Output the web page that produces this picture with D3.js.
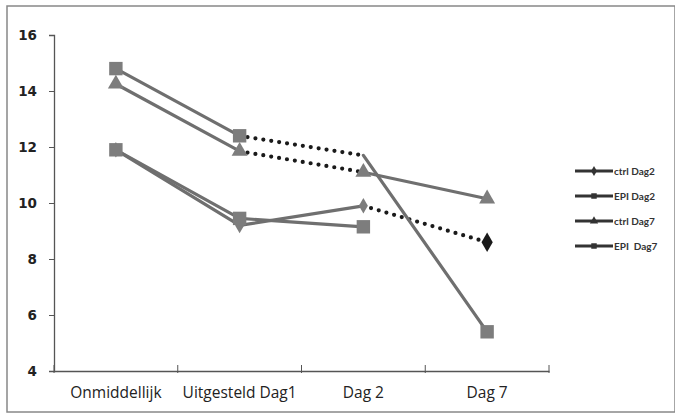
<!DOCTYPE html>
<html>
<head>
<meta charset="utf-8">
<script src="https://cdn.jsdelivr.net/npm/d3@7"></script>
<style>
  body { margin: 0; background: #fff; }
  svg { font-family: Lato, "Open Sans", sans-serif; }
</style>
</head>
<body>
<script>
var categories = ["Onmiddellijk", "Uitgesteld Dag1", "Dag 2", "Dag 7"];
var ctrlDag2 = [11.9, 9.2, 9.9, 8.6];
var epiDag2 = [11.9, 9.45, 9.15, null];
var ctrlDag7 = [14.25, 11.85, 11.1, 10.15];
var epiDag7 = [14.8, 12.4, 11.7, 5.4];
var yTicks = [4, 6, 8, 10, 12, 14, 16];

var series = [
  {name: "ctrl Dag2", values: ctrlDag2, marker: "diamond", dotted: [2]},
  {name: "EPI Dag2", values: epiDag2, marker: "square", dotted: []},
  {name: "ctrl Dag7", values: ctrlDag7, marker: "triangle", dotted: [1]},
  {name: "EPI  Dag7", values: epiDag7, marker: "square", dotted: [1], hide: [2]}
];

var width = 675, height = 416;
var lineColor = "#6f6f6f", markColor = "#7d7d7d";

var svg = d3.select("body").append("svg")
    .attr("width", width)
    .attr("height", height);

// scanned frame
svg.append("rect")
    .attr("x", 7).attr("y", 6)
    .attr("width", 668).attr("height", 406)
    .attr("fill", "none")
    .attr("stroke", "#888")
    .attr("stroke-width", 1.5);

var x = d3.scaleBand().domain(categories).range([54, 549]);
var y = d3.scaleLinear().domain([4, 16]).range([371, 35]);
function cx(i) { return x(categories[i]) + x.bandwidth() / 2; }

// axes
var yAxis = svg.append("g")
    .attr("transform", "translate(54,0)")
    .call(d3.axisLeft(y).tickValues(yTicks).tickSize(5).tickPadding(12));
yAxis.selectAll("text")
    .attr("font-size", 13.5).attr("font-weight", "bold").attr("fill", "#222")
    .attr("font-family", "'DejaVu Sans', sans-serif");

var xAxis = svg.append("g")
    .attr("transform", "translate(0,371)")
    .call(d3.axisBottom(x).tickSize(0).tickPadding(16));
xAxis.selectAll("text")
    .attr("font-size", 15.5).attr("fill", "#222")
    .attr("font-family", "'Open Sans', sans-serif");
// category boundary ticks
xAxis.selectAll(".bound")
    .data(d3.range(categories.length + 1))
    .enter().append("line")
    .attr("x1", function (d) { return 54 + d * x.step(); })
    .attr("x2", function (d) { return 54 + d * x.step(); })
    .attr("y1", -6).attr("y2", 2)
    .attr("stroke", "#555");
svg.selectAll(".domain").attr("stroke", "#555").attr("stroke-width", 1.3);
svg.selectAll(".tick line").attr("stroke", "#555");

function markerPath(type, size) {
  var sym = type === "square" ? d3.symbolSquare : type === "triangle" ? d3.symbolTriangle : d3.symbolDiamond;
  return d3.symbol().type(sym).size(size)();
}

// lines
series.forEach(function (s) {
  for (var i = 0; i < s.values.length - 1; i++) {
    var a = s.values[i], b = s.values[i + 1];
    if (a == null || b == null) continue;
    var dotted = s.dotted.indexOf(i) >= 0;
    svg.append("line")
      .attr("x1", cx(i)).attr("y1", y(a))
      .attr("x2", cx(i + 1)).attr("y2", y(b))
      .attr("stroke", dotted ? "#1a1a1a" : lineColor)
      .attr("stroke-width", dotted ? 4.2 : 3.2)
      .attr("stroke-linecap", "round")
      .attr("stroke-dasharray", dotted ? "0,8" : null);
  }
});

// markers
series.forEach(function (s) {
  s.values.forEach(function (v, i) {
    if (v == null || (s.hide && s.hide.indexOf(i) >= 0)) return;
    var size = s.marker === "square" ? 180 : s.marker === "triangle" ? 110 : 70;
    var fill = markColor;
    if (s.marker === "diamond" && i === 3) { fill = "#1a1a1a"; size = 110; }
    svg.append("path")
      .attr("d", markerPath(s.marker, size))
      .attr("transform", "translate(" + cx(i) + "," + y(v) + ")")
      .attr("fill", fill);
  });
});

// legend
var legend = svg.selectAll(".legend")
    .data(series)
    .enter().append("g")
    .attr("transform", function (d, i) { return "translate(575," + (171 + i * 25) + ")"; });
legend.append("line")
    .attr("x1", 0).attr("x2", 38)
    .attr("stroke", "#333").attr("stroke-width", 3);
legend.append("path")
    .attr("d", function (d) { return markerPath(d.marker, 30); })
    .attr("transform", "translate(19,0)")
    .attr("fill", "#333");
legend.append("text")
    .attr("x", 39).attr("y", 3.5)
    .attr("font-size", 10).attr("font-weight", "bold").attr("fill", "#333")
    .attr("xml:space", "preserve")
    .style("white-space", "pre")
    .text(function (d) { return d.name; });
</script>
</body>
</html>
